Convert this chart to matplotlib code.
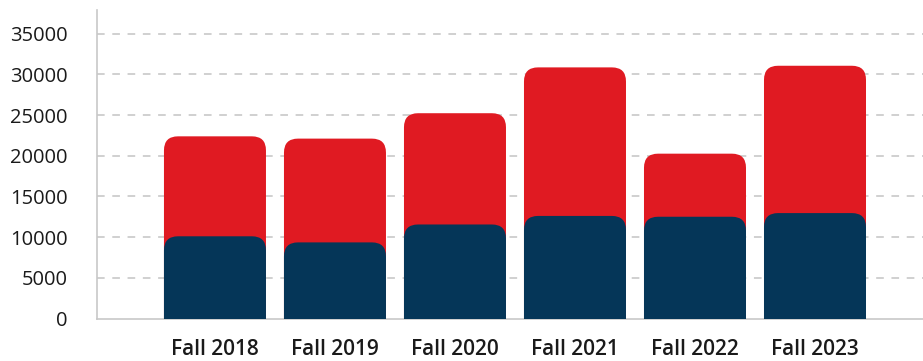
import matplotlib
matplotlib.use("Agg")
import matplotlib.pyplot as plt
from matplotlib.patches import FancyBboxPatch

# data
terms = ["Fall 2018", "Fall 2019", "Fall 2020", "Fall 2021", "Fall 2022", "Fall 2023"]
navy_vals = [10100, 9350, 11550, 12600, 12500, 12950]
totals = [22380, 22100, 25220, 30850, 20250, 31050]
yticks = [0, 5000, 10000, 15000, 20000, 25000, 30000, 35000]

RED = "#E01A22"
NAVY = "#053658"

plt.rcParams['font.family'] = ['Open Sans', 'DejaVu Sans']

fig = plt.figure(figsize=(9.23, 3.61), dpi=100)
ax = fig.add_axes([97 / 923, 42.5 / 361, 826 / 923, 308.5 / 361])

x = list(range(len(terms)))
width = 0.85
# corner radius ~14 px in both directions
r_x = 0.117
r_y = 1720


def rounded_bars(values, color, z):
    bars = ax.bar(x, values, width=width, color=color, zorder=z)
    for b in bars:
        bx, bw, bh = b.get_x(), b.get_width(), b.get_height()
        b.remove()
        # extend below zero so only the top corners show
        p = FancyBboxPatch((bx, -2 * r_y), bw, bh + 2 * r_y,
                           boxstyle="round,pad=0,rounding_size=%f" % r_x,
                           mutation_aspect=r_y / r_x,
                           facecolor=color, edgecolor="none", zorder=z)
        ax.add_patch(p)


rounded_bars(totals, RED, 2)
rounded_bars(navy_vals, NAVY, 3)

ax.set_xlim(-0.983, 5.9)
ax.set_ylim(0, 37900)
ax.set_yticks(yticks)
ax.set_yticklabels([str(v) for v in yticks], fontsize=14.5, fontweight="medium", color="#1a1a1a")
ax.set_xticks(x)
ax.set_xticklabels(terms, fontsize=15, fontweight="semibold", color="#1a1a1a")
ax.tick_params(axis="y", length=0, pad=21)
ax.tick_params(axis="x", length=0, pad=15)

for v in yticks[1:]:
    ax.axhline(v, color="#c4c4c4", lw=1.1, linestyle=(0, (5, 5)), zorder=1)

for side in ["top", "right"]:
    ax.spines[side].set_visible(False)
ax.spines["left"].set_color("#c8c8c8")
ax.spines["bottom"].set_color("#c8c8c8")
ax.spines["left"].set_linewidth(1.2)
ax.spines["bottom"].set_linewidth(1.2)

fig.savefig("out.png", dpi=100)
